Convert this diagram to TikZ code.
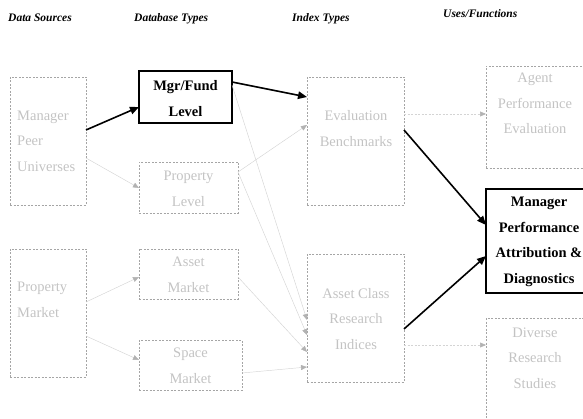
\documentclass[tikz,border=0pt]{standalone}
\usepackage{fontspec}
\setmainfont{Liberation Serif}
\usetikzlibrary{arrows.meta,calc}

\definecolor{boxgray}{RGB}{165,165,165}
\definecolor{txtgray}{RGB}{195,195,195}
\definecolor{linegray}{RGB}{212,212,212}
\definecolor{tipgray}{RGB}{178,178,178}

\tikzset{
  gbox/.style={draw=boxgray, dash pattern=on 2pt off 1.5pt, line width=0.6pt,
               inner sep=0pt, outer sep=0pt},
  kbox/.style={draw=black, line width=1.6pt, inner sep=0pt, outer sep=0pt},
  gtext/.style={text=txtgray, font=\fontsize{14.5}{25.5}\selectfont, inner sep=0pt},
  ktext/.style={text=black, font=\fontsize{14.5}{25.5}\selectfont\bfseries, inner sep=0pt, align=center},
  head/.style={anchor=west, inner sep=0pt, font=\fontsize{11.5}{13}\selectfont\bfseries\itshape},
  karrow/.style={line width=1.6pt, -{Triangle[length=9pt,width=7.5pt]}},
  garrow/.style={line width=0.45pt, draw=linegray, -{Triangle[length=6pt,width=5pt,color=tipgray]}},
  darrow/.style={line width=0.5pt, draw=linegray, dash pattern=on 2pt off 1.5pt,
                 -{Triangle[length=6pt,width=5pt,color=tipgray]}},
}

\begin{document}
\begin{tikzpicture}[x=1pt, y=-1pt]
\useasboundingbox (0,0) rectangle (583,419);
\clip (0,0) rectangle (583,419);

% column headings
\node[head] (h1) at (8,18) {Data Sources};
\node[head] (h2) at (134,19) {Database Types};
\node[head] (h3) at (292,19) {Index Types};
\node[head] (h4) at (443,14) {Uses/Functions};

% data sources
\node[gbox, minimum width=76pt, minimum height=128pt] (mpu) at (48,141) {};
\node[gtext, align=left, anchor=west] (mpuT) at (17,141) {Manager\\Peer\\Universes};
\node[gbox, minimum width=76pt, minimum height=128pt] (pm) at (48,313) {};
\node[gtext, align=left, anchor=west] (pmT) at (17,300) {Property\\Market};

% database types
\node[kbox, minimum width=93pt, minimum height=52pt] (mgr) at (185.5,97) {};
\node[ktext] (mgrT) at (185.5,98.5) {Mgr/Fund\\Level};
\node[gbox, minimum width=99pt, minimum height=51pt] (plv) at (188.5,187.5) {};
\node[gtext, align=center] (plvT) at (188.5,189) {Property\\Level};
\node[gbox, minimum width=99pt, minimum height=50pt] (am) at (188.5,274) {};
\node[gtext, align=center] (amT) at (188.5,275) {Asset\\Market};
\node[gbox, minimum width=103pt, minimum height=50pt] (sm) at (190.5,365) {};
\node[gtext, align=center] (smT) at (190.5,366) {Space\\Market};

% index types
\node[gbox, minimum width=97pt, minimum height=128pt] (eb) at (355.5,141) {};
\node[gtext, align=center] (ebT) at (356,128.5) {Evaluation\\Benchmarks};
\node[gbox, minimum width=97pt, minimum height=128pt] (ac) at (355.5,318) {};
\node[gtext, align=center] (acT) at (356,319) {Asset Class\\Research\\Indices};

% uses / functions
\node[gbox, minimum width=100pt, minimum height=102pt] (ape) at (536,117) {};
\node[gtext, align=center] (apeT) at (535,103.5) {Agent\\Performance\\Evaluation};
\node[kbox, minimum width=104pt, minimum height=104pt] (mpa) at (538,241) {};
\node[ktext] (mpaT) at (539,242) {Manager\\Performance\\Attribution \&\\Diagnostics};
\node[gbox, minimum width=100pt, minimum height=108pt] (drs) at (536,372) {};
\node[gtext, align=center] (drsT) at (535,358) {Diverse\\Research\\Studies};

% light connectors
\draw[garrow] ($(mpu.north east)+(0,81)$) -- ($(plv.north west)+(0,26)$);
\draw[garrow] ($(plv.north east)+(0,10)$) -- ($(eb.north west)+(0,48)$);
\draw[garrow] ($(mgr.north east)+(0,14)$) -- ($(ac.north west)+(0,66)$);
\draw[garrow] ($(plv.north east)+(0,10)$) -- ($(ac.north west)+(0,81)$);
\draw[garrow] ($(am.north east)+(0,28)$) -- ($(ac.north west)+(0,98)$);
\draw[garrow] ($(sm.north east)+(0,33)$) -- ($(ac.north west)+(0,113)$);
\draw[garrow] ($(pm.north east)+(0,53)$) -- ($(am.north west)+(0,28)$);
\draw[garrow] ($(pm.north east)+(0,87)$) -- ($(sm.north west)+(0,20)$);
\draw[darrow] ($(eb.north east)+(0,37)$) -- ($(ape.north west)+(0,48)$);
\draw[darrow] ($(ac.north east)+(0,91)$) -- ($(drs.north west)+(0,27)$);

% main path
\draw[karrow] ($(mpu.north east)+(0,53)$) -- ($(mgr.north west)+(0,36)$);
\draw[karrow] ($(mgr.north east)+(0,11)$) -- ($(eb.north west)+(0,20)$);
\draw[karrow] ($(eb.north east)+(0,53)$) -- ($(mpa.north west)+(0,36)$);
\draw[karrow] ($(ac.north east)+(0,75)$) -- ($(mpa.north west)+(0,67)$);
\end{tikzpicture}
\end{document}
